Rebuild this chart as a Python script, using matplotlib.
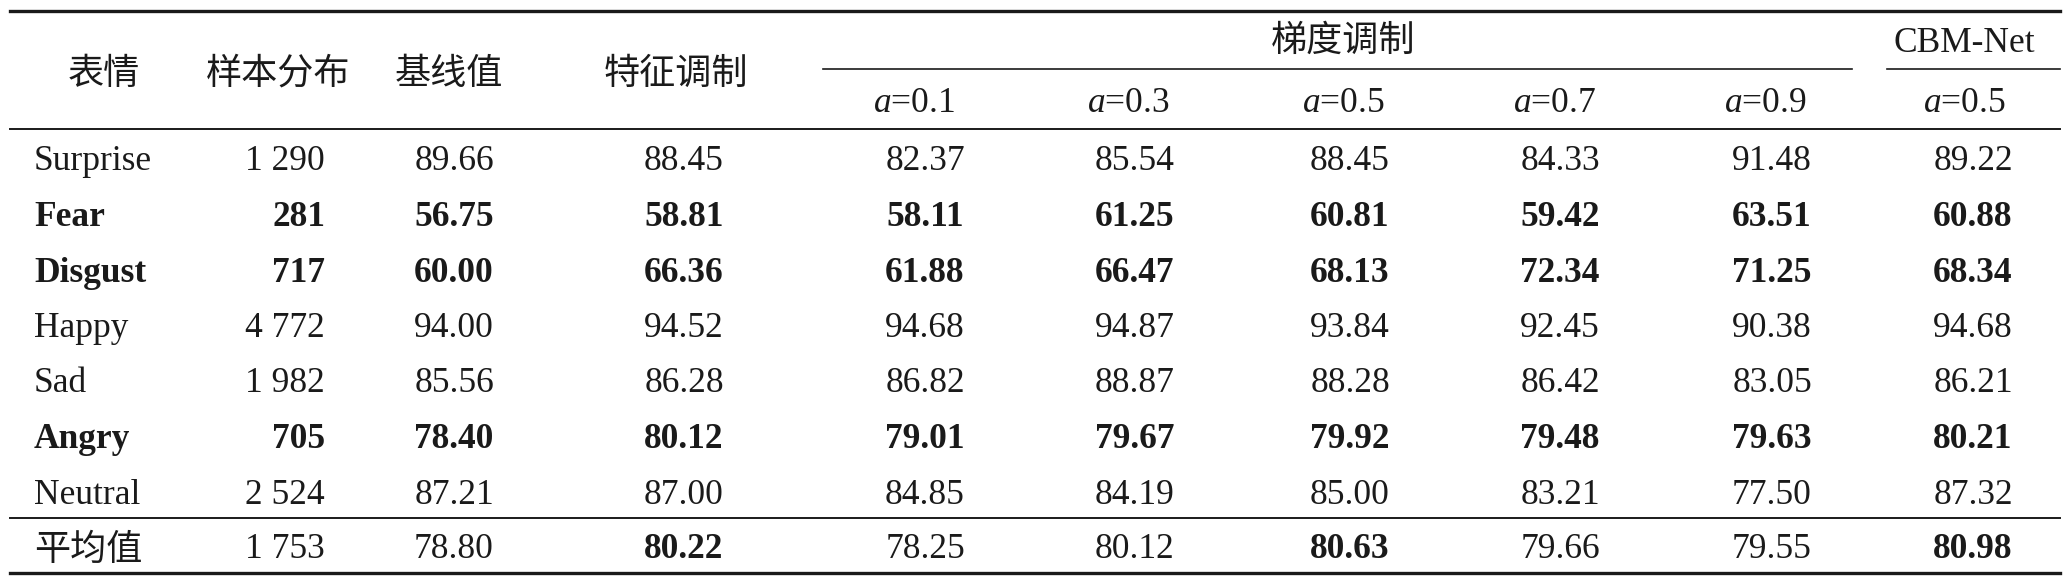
import matplotlib
matplotlib.use("Agg")
import matplotlib.pyplot as plt

plt.rcParams["font.family"] = ["Liberation Serif", "Noto Sans CJK SC"]
plt.rcParams["mathtext.fontset"] = "custom"
plt.rcParams["mathtext.rm"] = "Liberation Serif"
plt.rcParams["mathtext.it"] = "Liberation Serif:italic"

# table data
emotions = ["Surprise", "Fear", "Disgust", "Happy", "Sad", "Angry", "Neutral"]
sample_counts = [1290, 281, 717, 4772, 1982, 705, 2524]
baseline = [89.66, 56.75, 60.00, 94.00, 85.56, 78.40, 87.21]
feature_mod = [88.45, 58.81, 66.36, 94.52, 86.28, 80.12, 87.00]
grad_a01 = [82.37, 58.11, 61.88, 94.68, 86.82, 79.01, 84.85]
grad_a03 = [85.54, 61.25, 66.47, 94.87, 88.87, 79.67, 84.19]
grad_a05 = [88.45, 60.81, 68.13, 93.84, 88.28, 79.92, 85.00]
grad_a07 = [84.33, 59.42, 72.34, 92.45, 86.42, 79.48, 83.21]
grad_a09 = [91.48, 63.51, 71.25, 90.38, 83.05, 79.63, 77.50]
cbm_a05 = [89.22, 60.88, 68.34, 94.68, 86.21, 80.21, 87.32]
bold_emotions = ["Fear", "Disgust", "Angry"]

avg_label = "平均值"
avg_count = 1753
avg_values = [78.80, 80.22, 78.25, 80.12, 80.63, 79.66, 79.55, 80.98]
avg_bold = [False, True, False, False, True, False, False, True]

top_headers = ["表情", "样本分布", "基线值", "特征调制"]
grad_header = "梯度调制"
cbm_header = "CBM-Net"
alpha_labels = ["0.1", "0.3", "0.5", "0.7", "0.9", "0.5"]

# layout (pixels)
W, H = 2072, 584
fs = 25.5
cjk_fs = 26
ink = "#1a1a1a"
cjk = ["Noto Sans CJK SC"]
head_x = [104, 278, 449, 676]
alpha_x = [914, 1128, 1343, 1554, 1765, 1964]
label_x = 34
count_x = 325
val_x = [454, 684, 925, 1135, 1350, 1560, 1772, 1973]
row_y = [158, 213.5, 269, 324.5, 380, 435.5, 491]
avg_y = 546

fig = plt.figure(figsize=(W / 100, H / 100), dpi=100)
ax = fig.add_axes([0, 0, 1, 1])
ax.set_xlim(0, W)
ax.set_ylim(H, 0)
ax.axis("off")

# rules
ax.plot([10, 2060], [11, 11], color=ink, lw=2.4)
ax.plot([823, 1852], [69, 69], color=ink, lw=1.2)
ax.plot([1887, 2060], [69, 69], color=ink, lw=1.2)
ax.plot([10, 2060], [129, 129], color=ink, lw=1.4)
ax.plot([10, 2060], [518, 518], color=ink, lw=1.4)
ax.plot([10, 2060], [573, 573], color=ink, lw=2.4)

# header
for x, t in zip(head_x, top_headers):
    ax.text(x, 74, t, ha="center", va="center", fontsize=cjk_fs,
            family=cjk, color=ink)
ax.text(1343, 41, grad_header, ha="center", va="center", fontsize=cjk_fs,
        family=cjk, color=ink)
ax.text(1964, 43, cbm_header, ha="center", va="center", fontsize=fs, color=ink)
for x, a in zip(alpha_x, alpha_labels):
    ax.text(x, 103, r"$a$=" + a, ha="center", va="center", fontsize=fs, color=ink)

# body
columns = [baseline, feature_mod, grad_a01, grad_a03, grad_a05, grad_a07, grad_a09, cbm_a05]
for i, emo in enumerate(emotions):
    w = "bold" if emo in bold_emotions else "normal"
    y = row_y[i]
    ax.text(label_x, y, emo, ha="left", va="center_baseline", fontsize=fs,
            weight=w, color=ink)
    cnt = f"{sample_counts[i]:,}".replace(",", " ")
    ax.text(count_x, y, cnt, ha="right", va="center_baseline", fontsize=fs,
            weight=w, color=ink)
    for x, col in zip(val_x, columns):
        ax.text(x, y, f"{col[i]:.2f}", ha="center", va="center_baseline",
                fontsize=fs, weight=w, color=ink)

# average row
ax.text(label_x, avg_y + 4, avg_label, ha="left", va="center", fontsize=cjk_fs,
        family=cjk, color=ink)
ax.text(count_x, avg_y, f"{avg_count:,}".replace(",", " "), ha="right",
        va="center_baseline", fontsize=fs, color=ink)
for x, v, b in zip(val_x, avg_values, avg_bold):
    ax.text(x, avg_y, f"{v:.2f}", ha="center", va="center_baseline", fontsize=fs,
            weight="bold" if b else "normal", color=ink)

fig.savefig("out.png", dpi=100)
